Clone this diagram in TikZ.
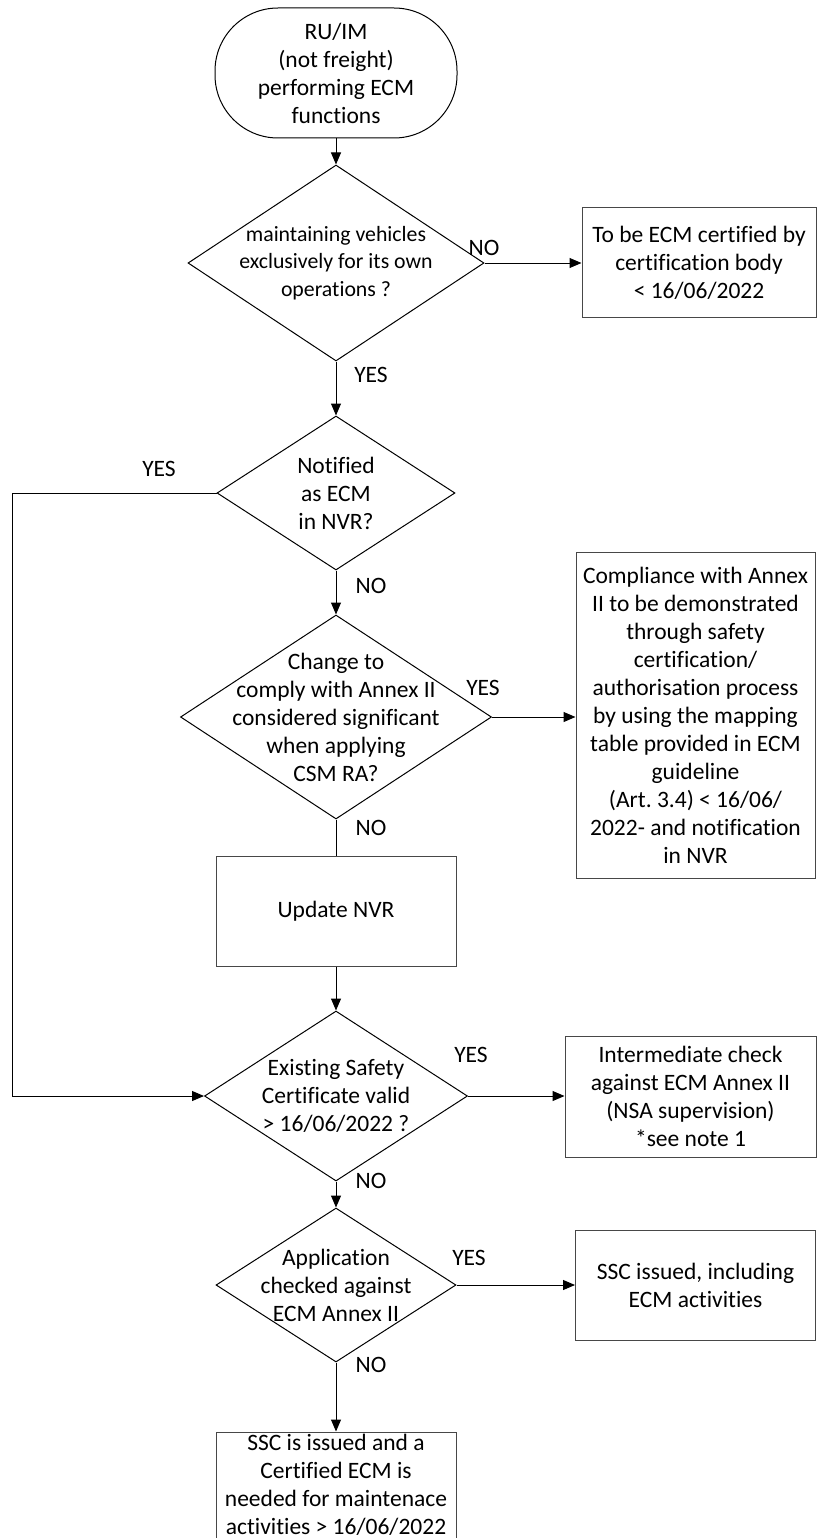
\documentclass[tikz,border=0pt]{standalone}
\usepackage{fontspec}
\setmainfont{Carlito}[Ligatures=NoCommon]
\frenchspacing
\usetikzlibrary{arrows.meta,shapes.geometric}
\begin{document}
\begin{tikzpicture}[x=1pt,y=-1pt,
  every node/.style={font=\fontsize{23.5}{28}\selectfont, text=black},
  dia/.style={draw=black, shape=diamond, inner sep=0pt, line width=1pt},
  boxn/.style={draw=black!72, rectangle, inner sep=0pt, line width=1pt, align=center},
  txt/.style={align=center, inner sep=0pt},
  lbl/.style={inner sep=0pt},
  arr/.style={-{Triangle[width=10pt,length=12pt]}, line width=1pt, draw=black},
  ln/.style={line width=1pt, draw=black}
]
\useasboundingbox (0,0) rectangle (817,1538);

% start terminal
\node[draw=black, line width=1pt, rounded corners=63pt, minimum width=242pt, minimum height=130pt, txt] (term) at (336,73) {RU/IM\\(not freight)\\performing ECM\\functions};

% diamonds
\node[dia, minimum width=296pt, minimum height=196pt] (d1) at (336,263) {};
\node[txt, font=\fontsize{21.8}{27.5}\selectfont] (d1t) at (336,263) {maintaining vehicles\\exclusively for its own\\operations ?};

\node[dia, minimum width=238pt, minimum height=154pt] (d2) at (336,493) {};
\node[txt] (d2t) at (336,493) {Notified\\as ECM\\in NVR?};

\node[dia, minimum width=311pt, minimum height=204pt] (d3) at (336,717) {};
\node[txt] (d3t) at (336,717) {Change to\\comply with Annex II\\considered significant\\when applying\\CSM RA?};

\node[dia, minimum width=263pt, minimum height=170pt] (d4) at (336,1096) {};
\node[txt] (d4t) at (336,1096) {Existing Safety\\Certificate valid\\> 16/06/2022 ?};

\node[dia, minimum width=240pt, minimum height=154pt] (d5) at (336,1285) {};
\node[txt] (d5t) at (336,1285) {Application\\checked against\\ECM Annex II};

% boxes
\node[boxn, minimum width=234pt, minimum height=109pt] (b1) at (699,262.5) {To be ECM certified by\\certification body\\< 16/06/2022};
\node[boxn, minimum width=239pt, minimum height=326pt] (comp) at (695.5,715) {Compliance with Annex\\II to be demonstrated\\through safety\\certification/\\authorisation process\\by using the mapping\\table provided in ECM\\guideline\\(Art. 3.4) < 16/06/\\2022- and notification\\in NVR};
\node[boxn, minimum width=240pt, minimum height=110pt] (upd) at (336,911) {Update NVR};
\node[boxn, minimum width=251pt, minimum height=121pt] (inter) at (690.5,1096.5) {Intermediate check\\against ECM Annex II\\(NSA supervision)\\*see note 1};
\node[boxn, minimum width=240pt, minimum height=110pt] (ssc) at (695.5,1285) {SSC issued, including\\ECM activities};
\node[boxn, minimum width=240pt, minimum height=106pt] (fin) at (336,1485) {SSC is issued and a\\Certified ECM is\\needed for maintenace\\activities > 16/06/2022};

% labels
\node[lbl] (l1) at (484,248) {NO};
\node[lbl] (l2) at (371,375) {YES};
\node[lbl] (l3) at (159,469) {YES};
\node[lbl] (l4) at (371,586) {NO};
\node[lbl] (l5) at (483,688) {YES};
\node[lbl] (l6) at (371,828) {NO};
\node[lbl] (l7) at (471,1055) {YES};
\node[lbl] (l8) at (371,1181) {NO};
\node[lbl] (l9) at (469,1258) {YES};
\node[lbl] (l10) at (371,1365) {NO};

% connectors
\coordinate (lc) at (12,493);
\draw[arr] (term.south) -- (d1.north);
\draw[arr] (d1.east) -- (b1.west |- d1.east);
\draw[arr] (d1.south) -- (d2.north);
\draw[arr] (d2.west) -- (lc) |- (d4.west);
\draw[arr] (d2.south) -- (d3.north);
\draw[arr] (d3.east) -- (comp.west |- d3.east);
\draw[ln] (d3.south) -- (upd.north);
\draw[arr] (upd.south) -- (d4.north);
\draw[arr] (d4.east) -- (inter.west |- d4.east);
\draw[arr] (d4.south) -- (d5.north);
\draw[arr] (d5.east) -- (ssc.west |- d5.east);
\draw[arr] (d5.south) -- (fin.north);
\end{tikzpicture}
\end{document}
